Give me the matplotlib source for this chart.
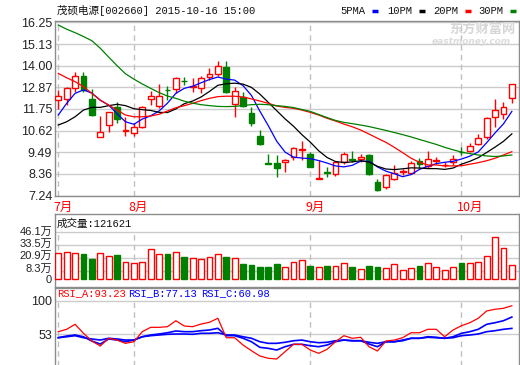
import matplotlib
matplotlib.use('Agg')
import matplotlib.pyplot as plt
from matplotlib.patches import Rectangle
from matplotlib.lines import Line2D
import numpy as np

# 茂硕电源 日K (2015-07 ~ 2015-10-16)
opens = [12.21, 12.25, 12.82, 13.46, 12.27, 10.30, 10.90, 11.87, 10.62, 10.48,
         10.82, 12.25, 11.92, 12.75, 12.77, 13.22, 12.88, 12.82, 13.43, 13.55,
         13.92, 11.99, 12.39, 11.52, 10.34, 8.91, 8.92, 8.97, 9.26, 9.63,
         9.40, 8.12, 8.47, 8.36, 8.97, 9.14, 9.14, 9.35, 7.94, 7.67,
         8.10, 8.47, 8.43, 9.04, 8.79, 9.02, 8.82, 8.97, 9.53, 9.57,
         9.92, 10.30, 11.31, 11.47, 12.33]
highs = [12.74, 12.88, 13.69, 13.69, 12.79, 11.38, 11.59, 12.12, 11.34, 11.00,
         11.92, 12.70, 13.03, 12.94, 13.43, 13.43, 13.37, 13.48, 13.87, 14.25,
         14.26, 12.91, 12.62, 11.83, 10.65, 9.40, 9.35, 9.13, 9.75, 10.08,
         9.52, 9.07, 8.71, 9.04, 9.49, 9.56, 9.39, 9.40, 8.10, 8.35,
         8.83, 8.61, 9.04, 9.18, 9.56, 9.23, 8.97, 9.35, 9.78, 9.96,
         10.44, 11.34, 12.27, 12.12, 13.05]
lows = [11.73, 11.95, 12.65, 12.61, 11.38, 10.27, 10.56, 11.00, 10.34, 10.34,
        10.74, 11.95, 11.78, 12.21, 12.59, 12.99, 12.61, 12.56, 13.26, 13.46,
        12.59, 11.34, 11.83, 10.88, 9.87, 8.87, 8.22, 8.45, 9.09, 9.09,
        8.71, 8.10, 8.22, 8.27, 8.87, 9.00, 9.00, 8.31, 7.48, 7.58,
        8.06, 8.31, 8.35, 8.66, 8.66, 8.87, 8.74, 8.83, 9.35, 9.49,
        9.87, 10.18, 10.82, 11.21, 12.07]
closes = [12.42, 12.82, 13.46, 12.74, 11.43, 10.53, 11.57, 11.21, 10.67, 10.79,
          11.87, 12.41, 12.44, 12.72, 13.34, 13.19, 12.96, 13.34, 13.57, 13.99,
          12.65, 12.68, 11.92, 11.00, 9.91, 8.87, 8.66, 9.09, 9.70, 9.65,
          8.71, 8.14, 8.43, 8.97, 9.39, 9.11, 9.26, 8.36, 7.53, 8.31,
          8.40, 8.49, 8.92, 8.87, 9.13, 9.11, 8.84, 9.14, 9.51, 9.83,
          10.22, 11.26, 11.69, 11.87, 13.05]

ma5 = [11.43, 12.04, 12.56, 12.74, 12.57, 12.20, 11.95, 11.50, 11.08, 10.95,
       11.22, 11.39, 11.64, 12.05, 12.56, 12.82, 12.93, 13.11, 13.28, 13.41,
       13.30, 13.25, 12.96, 12.45, 11.63, 10.88, 10.07, 9.50, 9.24, 9.19,
       9.16, 9.06, 8.93, 8.78, 8.73, 8.81, 9.03, 9.02, 8.73, 8.51,
       8.37, 8.22, 8.33, 8.60, 8.76, 8.90, 8.97, 9.02, 9.14, 9.29,
       9.51, 9.99, 10.50, 10.97, 11.62]
ma10 = [10.91, 11.08, 11.34, 11.69, 11.83, 11.83, 11.92, 11.99, 11.92, 11.76,
        11.71, 11.67, 11.57, 11.56, 11.75, 12.02, 12.16, 12.37, 12.66, 12.98,
        13.06, 13.09, 13.04, 12.87, 12.52, 12.09, 11.66, 11.23, 10.85, 10.41,
        10.02, 9.57, 9.22, 9.01, 8.96, 8.99, 9.05, 8.98, 8.76, 8.62,
        8.59, 8.63, 8.68, 8.67, 8.64, 8.64, 8.60, 8.67, 8.87, 9.02,
        9.21, 9.48, 9.76, 10.06, 10.45]
ma20 = [13.60, 13.37, 13.17, 12.91, 12.56, 12.21, 11.95, 11.69, 11.43, 11.34,
        11.34, 11.38, 11.47, 11.64, 11.81, 11.92, 12.04, 12.18, 12.30, 12.39,
        12.41, 12.41, 12.37, 12.27, 12.16, 12.04, 11.90, 11.83, 11.78, 11.69,
        11.57, 11.43, 11.26, 11.12, 10.96, 10.82, 10.65, 10.44, 10.22, 10.01,
        9.75, 9.47, 9.18, 8.97, 8.83, 8.83, 8.78, 8.78, 8.79, 8.87,
        8.95, 9.05, 9.18, 9.35, 9.52]
ma30 = [16.12, 15.90, 15.72, 15.52, 15.30, 14.91, 14.45, 14.00, 13.58, 13.30,
        13.05, 12.82, 12.60, 12.42, 12.30, 12.15, 12.05, 11.97, 11.92, 11.88,
        11.87, 11.88, 11.93, 11.97, 11.99, 11.97, 11.92, 11.88, 11.82, 11.72,
        11.62, 11.46, 11.30, 11.15, 11.05, 10.98, 10.91, 10.83, 10.73, 10.63,
        10.52, 10.41, 10.29, 10.16, 10.03, 9.90, 9.75, 9.62, 9.50, 9.42,
        9.35, 9.30, 9.27, 9.30, 9.35]

# 成交量 (万手)
volumes = [25.2, 26.2, 25.2, 24.5, 19.6, 25.2, 22.3, 23.5, 16.4, 15.4,
           16.4, 29.1, 24.2, 24.5, 26.2, 21.6, 20.3, 19.3, 21.3, 24.5,
           21.6, 20.3, 15.0, 13.7, 11.8, 11.8, 14.7, 11.5, 16.4, 18.3,
           12.8, 11.5, 12.8, 12.5, 15.4, 11.8, 9.5, 12.8, 11.8, 10.5,
           14.4, 8.5, 10.5, 12.8, 15.4, 11.5, 8.5, 11.5, 15.7, 15.4,
           16.4, 22.3, 40.9, 30.1, 13.5]

rsi_a = [56.3, 59.7, 66.8, 54.0, 43.0, 35.9, 46.9, 44.4, 39.7, 42.0,
         56.3, 62.5, 62.5, 63.4, 71.9, 64.4, 63.4, 67.2, 69.7, 75.4,
         47.7, 47.7, 37.3, 29.2, 21.7, 18.4, 17.4, 27.8, 38.3, 38.3,
         30.2, 25.5, 31.2, 42.0, 50.6, 46.9, 48.3, 34.9, 28.8, 43.0,
         44.4, 47.7, 54.8, 54.8, 59.7, 59.7, 49.1, 58.7, 64.8, 69.1,
         75.4, 85.8, 88.2, 89.6, 93.23]
rsi_b = [47.7, 50.1, 51.6, 49.1, 43.0, 38.7, 45.9, 44.4, 42.0, 44.4,
         49.1, 51.6, 53.0, 54.8, 57.3, 56.3, 56.3, 57.7, 58.7, 61.1,
         50.6, 50.6, 46.9, 42.0, 34.0, 32.6, 30.2, 34.9, 38.3, 38.3,
         36.3, 34.9, 37.3, 42.0, 44.4, 43.4, 43.4, 38.7, 34.9, 42.0,
         42.0, 44.4, 46.9, 46.9, 49.1, 48.3, 46.9, 49.1, 54.0, 56.3,
         59.7, 66.8, 69.1, 71.9, 77.13]
rsi_c = [47.7, 49.1, 50.6, 47.7, 45.9, 44.4, 46.9, 45.9, 44.4, 44.4,
         49.1, 50.6, 51.6, 52.6, 53.0, 53.0, 52.6, 54.0, 54.0, 54.8,
         51.6, 51.6, 49.1, 46.9, 42.0, 39.7, 39.7, 41.2, 43.4, 44.4,
         42.0, 40.6, 41.2, 43.4, 44.4, 43.4, 43.4, 41.2, 39.7, 42.0,
         42.0, 43.4, 46.9, 46.9, 48.3, 47.7, 46.9, 47.7, 50.6, 51.6,
         53.0, 56.3, 57.7, 59.7, 60.98]

month_labels = ['7月', '8月', '9月', '10月']
month_starts = [0, 9, 30, 48]
price_ticks = [7.24, 8.36, 9.49, 10.62, 11.75, 12.87, 14.00, 15.13, 16.25]
vol_ticks = [0, 8.3, 20.9, 33.5, 46.1]
vol_labels = ['0', '8.3万', '20.9万', '33.5万', '46.1万']
rsi_ticks = [0, 53, 100]

RED = '#ff0000'
GREEN = '#008000'
GRID = '#cccccc'
FRAME = '#8c8c8c'
MONO = ['Liberation Mono', 'Noto Sans CJK SC']
plt.rcParams['font.family'] = ['Liberation Sans', 'Noto Sans CJK SC']

W, H = 520, 365
fig = plt.figure(figsize=(W / 100, H / 100), dpi=100)


def px_axes(x0, y0, x1, y1):
    # 按像素位置建坐标轴 (y 从上往下)
    return fig.add_axes([x0 / W, 1 - y1 / H, (x1 - x0) / W, (y1 - y0) / H])


ax = px_axes(55, 21, 519, 196)
ax_v = px_axes(55, 214, 519, 287)
ax_r = px_axes(55, 288, 519, 372)

x = np.arange(len(closes))
up = [c >= o for o, c in zip(opens, closes)]

for a in (ax, ax_v, ax_r):
    a.set_xlim(-0.39, 54.85)
    a.set_xticks([])
    for s in a.spines.values():
        s.set_color(FRAME)
        s.set_linewidth(1)
    a.tick_params(axis='y', length=0, pad=2, labelsize=9, labelcolor='#222222')

# ---- K线主图 ----
ax.set_ylim(7.214, 16.328)
ax.set_yticks(price_ticks)
ax.set_yticklabels([f'{t:.2f}' for t in price_ticks])
for t in price_ticks:
    ax.axhline(t, color=GRID, lw=1, zorder=0)
for m in month_starts:
    ax.axvline(m, color='#c0c0c0', lw=1, ls=(0, (4, 3)), zorder=0)

for i in x:
    col = RED if up[i] else GREEN
    ax.vlines(i, lows[i], highs[i], color=col, lw=1, zorder=2)
    lo = min(opens[i], closes[i])
    hgt = max(abs(closes[i] - opens[i]), 0.02)
    ax.add_patch(Rectangle((i - 0.35, lo), 0.7, hgt, facecolor='white' if up[i] else col,
                           edgecolor=col, lw=1, zorder=3))

ax.plot(x, ma5, color='#0000ff', lw=0.9, zorder=4)
ax.plot(x, ma10, color='black', lw=0.9, zorder=4)
ax.plot(x, ma20, color=RED, lw=0.9, zorder=4)
ax.plot(x, ma30, color=GREEN, lw=0.9, zorder=4)

for m, lab in zip(month_starts, month_labels):
    ax.text(m - 0.6, -11 / 175, lab, transform=ax.get_xaxis_transform(), color=RED,
            fontsize=9, ha='left', va='center', family=['Noto Sans CJK SC'])

# 标题与均线图例
fig.text(57 / W, 1 - 10 / H, '茂硕电源[002660] 2015-10-16 15:00', family=MONO,
         fontsize=7.6, ha='left', va='center', color='#111111')
legend_items = [('5PMA', '#0000ff', 340), ('10PM', 'black', 387),
                ('20PM', RED, 433), ('30PM', GREEN, 478)]
for name, col, x0 in legend_items:
    fig.text(x0 / W, 1 - 11 / H, name, family=MONO, fontsize=7.6, ha='left',
             va='center', color='#111111')
    fig.add_artist(Line2D([(x0 + 32) / W, (x0 + 38) / W], [1 - 11 / H] * 2,
                          color=col, lw=2.5, solid_capstyle='butt'))

# 水印
fig.text(449 / W, 1 - 29 / H, '东方财富网', fontsize=9.5, fontweight='bold',
         color='#d6d6d6', ha='left', va='center', family=['Noto Sans CJK SC'])
fig.text(432 / W, 1 - 41 / H, 'eastmoney.com', fontsize=6.5, fontweight='bold',
         style='italic', color='#dcdcdc', ha='left', va='center', family=['DejaVu Sans'])

# ---- 成交量 ----
ax_v.set_ylim(-7.85, 63.8)
ax_v.set_yticks([])
for t in vol_ticks[1:]:
    ax_v.axhline(t, color=GRID, lw=1, zorder=0)
# 刻度文字手动放置, 几个标签挤在一起, 略微错开
vol_shift = {0: -1.0, 8.3: 1.5, 20.9: 1.0, 33.5: 0.5, 46.1: 0}
for t, lab in zip(vol_ticks, vol_labels):
    ax_v.annotate(lab, xy=(0, t), xycoords=('axes fraction', 'data'),
                  xytext=(-2, vol_shift[t]), textcoords='offset points', ha='right',
                  va='center', fontsize=8, color='#222222', annotation_clip=False)
ax_v.vlines(month_starts, 0, vol_ticks[-1], color='#c0c0c0', lw=1, ls=(0, (4, 3)), zorder=0)
for i in x:
    col = RED if up[i] else GREEN
    ax_v.add_patch(Rectangle((i - 0.35, 0), 0.7, volumes[i], facecolor='white' if up[i] else col,
                             edgecolor=col, lw=1, zorder=3))
ax_v.text(2 / 464, 1 - 10 / 73, '成交量:121621', transform=ax_v.transAxes, family=MONO,
          fontsize=7.6, ha='left', va='center', color='#111111')

# ---- RSI ----
ax_r.set_ylim(-1.1, 118.5)
ax_r.set_yticks(rsi_ticks)
for t in rsi_ticks[1:]:
    ax_r.axhline(t, color=GRID, lw=1, zorder=0)
ax_r.vlines(month_starts, -1.1, 100, color='#c0c0c0', lw=1, ls=(0, (4, 3)), zorder=0)
ax_r.plot(x, rsi_a, color=RED, lw=0.9, zorder=4)
ax_r.plot(x, rsi_b, color='#0000ff', lw=1.2, zorder=3)
ax_r.plot(x, rsi_c, color='#0000ff', lw=1.2, zorder=3)
for lab, col, x0 in [('RSI_A:93.23', RED, 57), ('RSI_B:77.13', '#0000ff', 128),
                     ('RSI_C:60.98', '#0000ff', 201)]:
    fig.text(x0 / W, 1 - 293 / H, lab, family=MONO, fontsize=7.6, ha='left',
             va='center', color=col)

fig.savefig('out.png', dpi=100)
